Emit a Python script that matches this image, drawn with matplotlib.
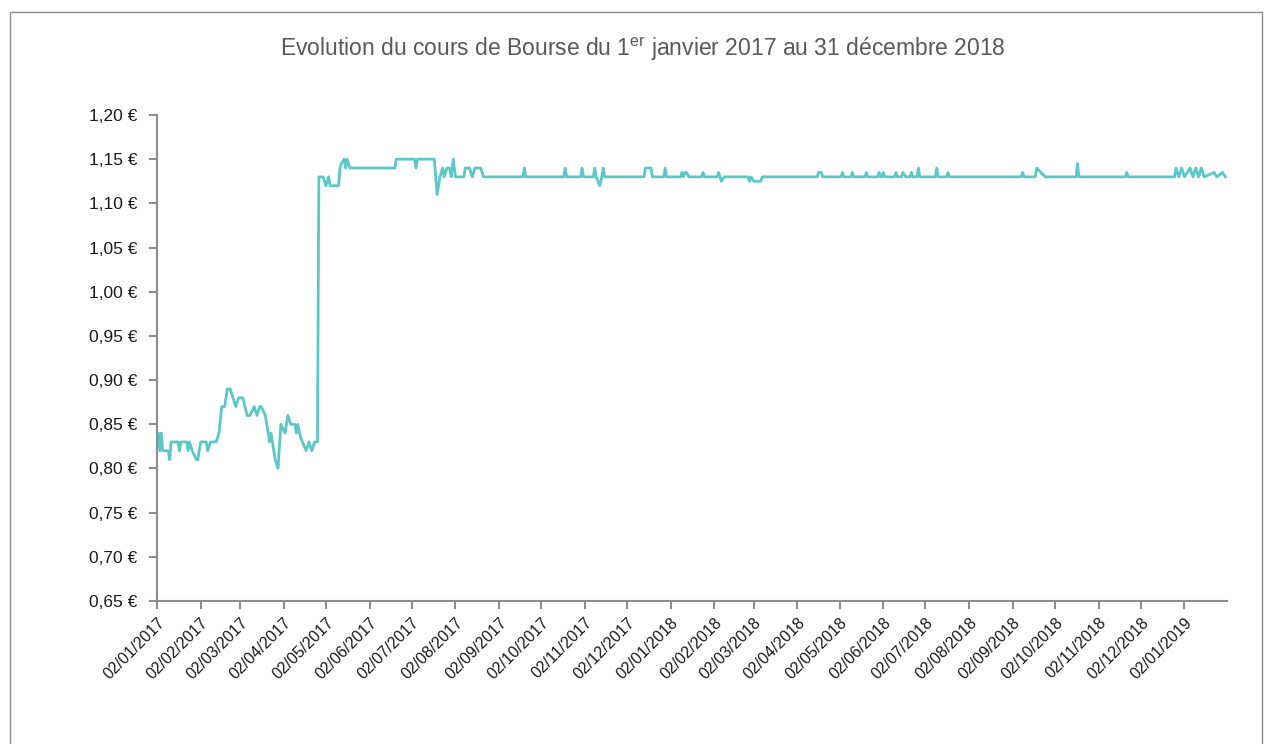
import matplotlib
matplotlib.use('Agg')
from matplotlib import pyplot as plt
import matplotlib.dates as mdates
from matplotlib.patches import Rectangle
from matplotlib.ticker import FuncFormatter, MultipleLocator
import numpy as np
import pandas as pd

plt.rcParams['font.family'] = ['Liberation Sans', 'DejaVu Sans']

# jours depuis le 02/01/2017 et cours en euros
jours = [0, 1, 2, 3, 4, 8, 9, 10, 15, 16,
         17, 21, 22, 23, 25, 28, 29, 31, 35, 36,
         38, 42, 44, 46, 48, 50, 52, 54, 56, 58,
         61, 64, 66, 69, 71, 73, 74, 77, 78, 80,
         81, 83, 84, 86, 88, 91, 93, 95, 98, 99,
         100, 102, 106, 108, 110, 112, 114,
         115, 118, 120, 122, 123, 129, 130, 131, 133, 134,
         135, 137, 169, 170, 183, 184, 185, 197, 199, 201,
         203, 204, 206, 208, 209, 210.5, 212, 218, 219, 222,
         224, 226, 230, 232,
         260, 261, 262, 289, 290, 291, 301, 302, 303,
         310, 311, 312, 314.6, 316, 317, 318,
         346, 347, 351, 352, 360, 361, 362,
         372, 373, 374, 375, 376, 378, 387, 388, 389,
         398, 399, 401, 403, 420, 421, 422, 424, 429, 430,
         469, 470, 472, 473, 486, 487, 488, 493, 494, 495,
         503, 504, 505, 512, 513, 514, 515, 516, 517,
         524, 525, 526, 529, 530, 532, 533, 535, 536, 537,
         540, 541, 542, 553, 554, 555, 561, 562, 563,
         614, 615, 616, 624, 625, 631, 653, 654, 655, 688, 689, 690,
         723, 724, 726, 728, 730, 734, 736, 738, 740, 742,
         744, 751, 753, 757, 759]
cours = [0.83, 0.84, 0.82, 0.84, 0.82, 0.82, 0.81, 0.83, 0.83, 0.82,
         0.83, 0.83, 0.82, 0.83, 0.82, 0.81, 0.81, 0.83, 0.83, 0.82,
         0.83, 0.83, 0.84, 0.87, 0.87, 0.89, 0.89, 0.88, 0.87, 0.88,
         0.88, 0.86, 0.86, 0.87, 0.86, 0.87, 0.87, 0.86, 0.85, 0.83,
         0.84, 0.82, 0.81, 0.80, 0.85, 0.84, 0.86, 0.85, 0.85, 0.84,
         0.85, 0.835, 0.82, 0.83, 0.82, 0.83, 0.83,
         1.13, 1.13, 1.12, 1.13, 1.12, 1.12, 1.14, 1.145, 1.15, 1.14,
         1.15, 1.14, 1.14, 1.15, 1.15, 1.14, 1.15, 1.15, 1.11, 1.13,
         1.14, 1.13, 1.14, 1.14, 1.13, 1.15, 1.13, 1.13, 1.14, 1.14,
         1.13, 1.14, 1.14, 1.13,
         1.13, 1.14, 1.13, 1.13, 1.14, 1.13, 1.13, 1.14, 1.13,
         1.13, 1.14, 1.13, 1.12, 1.13, 1.14, 1.13,
         1.13, 1.14, 1.14, 1.13, 1.13, 1.14, 1.13,
         1.13, 1.135, 1.13, 1.135, 1.135, 1.13, 1.13, 1.135, 1.13,
         1.13, 1.135, 1.125, 1.13, 1.13, 1.125, 1.13, 1.125, 1.125, 1.13,
         1.13, 1.135, 1.135, 1.13, 1.13, 1.135, 1.13, 1.13, 1.135, 1.13,
         1.13, 1.135, 1.13, 1.13, 1.135, 1.13, 1.13, 1.135, 1.13,
         1.13, 1.135, 1.13, 1.13, 1.135, 1.13, 1.13, 1.13, 1.135, 1.13,
         1.13, 1.14, 1.13, 1.13, 1.14, 1.13, 1.13, 1.135, 1.13,
         1.13, 1.135, 1.13, 1.13, 1.14, 1.13, 1.13, 1.145, 1.13, 1.13, 1.135, 1.13,
         1.13, 1.14, 1.13, 1.14, 1.13, 1.14, 1.13, 1.14, 1.13, 1.14,
         1.13, 1.135, 1.13, 1.135, 1.13]

debut = pd.Timestamp('2017-01-02')
fin = pd.Timestamp('2019-02-01')
titre = 'Evolution du cours de Bourse du 1$^{\\mathregular{er}}$ janvier 2017 au 31 décembre 2018'

dates = debut + pd.to_timedelta(np.array(jours), unit='D')

fig = plt.figure(figsize=(12.65, 7.44), dpi=100)
fig.patches.append(Rectangle((10 / 1265, -0.05), 1252 / 1265, 1.05 - 12 / 744,
                             transform=fig.transFigure, fill=False,
                             edgecolor='#8c8c8c', linewidth=1))
ax = fig.add_axes([157 / 1265, 1 - 601 / 744, 1069.7 / 1265, 486 / 744])

ax.plot(dates, cours, color='#5bc8c8', linewidth=2)

ax.set_xlim(debut, fin)
ax.set_ylim(0.65, 1.20)
ax.yaxis.set_major_locator(MultipleLocator(0.05))
ax.yaxis.set_major_formatter(FuncFormatter(lambda v, p: f'{v:.2f}'.replace('.', ',') + ' €'))
ax.xaxis.set_major_locator(mdates.MonthLocator(bymonthday=2))
ax.xaxis.set_major_formatter(mdates.DateFormatter('%d/%m/%Y'))

for s in ['top', 'right']:
    ax.spines[s].set_visible(False)
for s in ['left', 'bottom']:
    ax.spines[s].set_color('#8c8c8c')
    ax.spines[s].set_linewidth(1.5)
ax.tick_params(axis='both', direction='out', length=6, width=1.5, color='#8c8c8c',
               labelcolor='#1a1a1a')
ax.tick_params(axis='y', pad=8, labelsize=12.5)
ax.tick_params(axis='x', pad=4, labelsize=11.5)
plt.setp(ax.get_xticklabels(), rotation=45, ha='right', rotation_mode='anchor')

fig.text(643 / 1265, 1 - 49 / 744, titre, ha='center', va='center',
         fontsize=16.5, color='#595959')

fig.savefig('out.png', dpi=100)
